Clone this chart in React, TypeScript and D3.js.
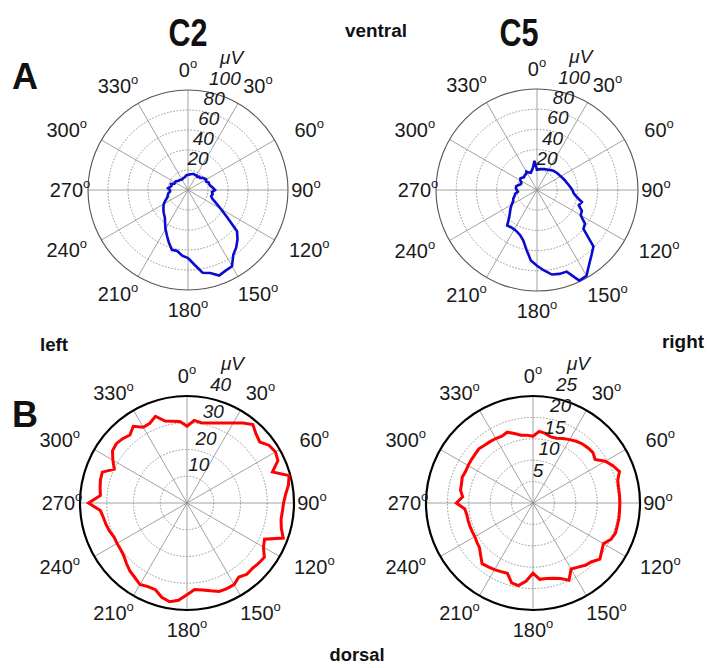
import React from "react";
import * as d3 from "d3";

const W = 707;
const H = 668;

// Angles (deg, clockwise from ventral / 0°) at which responses were sampled
const sampleAngles = d3.range(0, 360, 5);

// Panel A: C2 response amplitude (μV) per angle
const c2TopValues = [
  15, 15.5, 16, 16.5, 17, 16.5, 17, 16, 17.5, 17, 19, 20,
  21, 20, 22, 22, 23, 25, 27, 24, 25, 24, 26, 31,
  38, 48, 64, 70, 75, 79, 88, 89, 91, 86, 84, 75,
  68, 66, 62, 62, 56, 50, 45, 40, 36, 34, 32, 30,
  28, 25, 22, 21, 20, 18, 18, 20, 18, 17, 18, 15,
  15, 15, 14, 13, 13, 12.5, 12, 12.5, 13, 13, 14, 15,
];

// Panel A: C5 response amplitude (μV) per angle
const c5TopValues = [
  20, 20.5, 21, 21.5, 22, 22.5, 23, 24, 25, 25.5, 26, 26.5,
  27, 28, 29, 30, 31.5, 33, 35, 36.5, 40, 46, 44, 49,
  50, 58, 60, 79, 84, 90, 98, 99, 86, 86, 85, 80,
  75, 70, 60, 52, 48, 46, 45, 45, 46, 39, 35, 32,
  29, 26, 25, 23, 22, 19, 20, 21, 21, 19, 17, 17,
  19, 20, 19, 18, 19, 19, 21, 19, 18, 20, 22.7, 29,
];

// Panel B: C2 response amplitude (μV) per angle
const c2BottomValues = [
  28.7, 31, 30.5, 31, 31.8, 33, 34.5, 36.5, 38.3, 36.5, 35.5, 37.5,
  38.2, 37.5, 34, 39.5, 38.5, 37, 36.1, 35.8, 35.7, 36.5, 38.3, 32,
  33, 35.3, 35, 34.6, 34.8, 33.8, 35.2, 35.3, 35.2, 34, 33, 32.5,
  34.3, 36.5, 37.5, 36.5, 34.5, 34.5, 35.2, 34, 33.2, 32, 30.8, 30.3,
  30.2, 30.1, 30.8, 31.3, 31.7, 32.5, 36.8, 32.5, 33, 33.5, 33.7, 30,
  32, 34, 34.5, 34, 33.2, 35, 32.7, 32.9, 34.5, 31.7, 31, 30.6,
];

// Panel B: C5 response amplitude (μV) per angle
const c5BottomValues = [
  15.6, 16.8, 16.5, 16, 16.1, 16.6, 17.1, 17.6, 18, 18.2, 18.3, 17.7,
  19.5, 20.6, 21.5, 20.5, 20.3, 20.3, 20.3, 20.3, 20.4, 20.4, 20.5, 20.1,
  19, 19.6, 20.4, 19.4, 19, 18.3, 17.8, 19.9, 18.8, 18.2, 17.9, 17.9,
  16.4, 18.3, 19.6, 19.3, 17.5, 17.7, 18, 18.2, 18.5, 17.3, 16.3, 16,
  15.7, 15.7, 15.7, 15.7, 15.7, 16, 17.9, 16.5, 17.2, 17.3, 17.6, 17.4,
  17.5, 17.6, 17.7, 17.9, 17.6, 17.5, 17.4, 17.2, 17.6, 16.8, 16.1, 15.9,
];

// Axis ticks
const angleTicks = d3.range(0, 360, 30);
const topRadialTicks = [20, 40, 60, 80, 100];
const c2BottomRadialTicks = [10, 20, 30, 40];
const c5BottomRadialTicks = [5, 10, 15, 20, 25];

type PanelProps = {
  cx: number;
  cy: number;
  R: number;
  ticks: number[];
  values: number[];
  color: string;
  lineWidth: number;
  outerStroke: string;
  outerWidth: number;
};

const FONT = "'Liberation Sans', Arial, sans-serif";

function PolarPanel(p: PanelProps) {
  const rMax = p.ticks[p.ticks.length - 1];
  const r = d3.scaleLinear().domain([0, rMax]).range([0, p.R]);
  const toRad = (deg: number) => (deg * Math.PI) / 180;
  const data = sampleAngles.map((a, i) => ({ a, v: p.values[i] }));
  const line = d3
    .lineRadial<{ a: number; v: number }>()
    .angle((d) => toRad(d.a))
    .radius((d) => r(d.v))
    .curve(d3.curveLinearClosed);
  // Angle labels sit on a slightly wider-than-tall ring; the 90°/270° ones hug the circle
  const labelPos = (a: number) => {
    const s = Math.sin(toRad(a));
    const c = Math.cos(toRad(a));
    const lx = a % 180 === 90 ? p.R + 18 : p.R + 40;
    const ly = p.R + 20;
    return { x: lx * s, y: -ly * c };
  };
  const lastTick = p.ticks[p.ticks.length - 1];
  const tickX = (v: number) => -6 + r(v) * 0.27;
  const tickY = (v: number) => -r(v) - 5;
  return (
    <g transform={`translate(${p.cx},${p.cy})`}>
      {p.ticks.slice(0, -1).map((t) => (
        <circle
          key={`ring-${t}`}
          r={r(t)}
          fill="none"
          stroke="#8a8a8a"
          strokeWidth={0.9}
          strokeDasharray="1.6,1.6"
        />
      ))}
      {angleTicks.map((a) => (
        <line
          key={`spoke-${a}`}
          x1={0}
          y1={0}
          x2={p.R * Math.sin(toRad(a))}
          y2={-p.R * Math.cos(toRad(a))}
          stroke="#8a8a8a"
          strokeWidth={0.8}
        />
      ))}
      <circle r={p.R} fill="none" stroke={p.outerStroke} strokeWidth={p.outerWidth} />
      <path d={line(data) ?? ""} fill="none" stroke={p.color} strokeWidth={p.lineWidth} strokeLinejoin="miter" />
      {angleTicks.map((a) => {
        const pos = labelPos(a);
        return (
          <text
            key={`alab-${a}`}
            x={pos.x}
            y={pos.y}
            textAnchor="middle"
            dominantBaseline="central"
            fontFamily={FONT}
            fontSize={20}
            fill="#1a1a1a"
          >
            {a}
            <tspan fontSize={13} dy={-7}>o</tspan>
          </text>
        );
      })}
      {p.ticks.map((t) => (
        <text
          key={`rlab-${t}`}
          x={tickX(t)}
          y={tickY(t)}
          fontFamily={FONT}
          fontStyle="italic"
          fontSize={19}
          fill="#1a1a1a"
        >
          {t}
        </text>
      ))}
      <text
        x={tickX(lastTick) + 11}
        y={tickY(lastTick) - 21}
        fontFamily={FONT}
        fontStyle="italic"
        fontSize={19}
        fill="#1a1a1a"
      >
        μV
      </text>
    </g>
  );
}

export default function App() {
  const blue = "#0a0ad0";
  const red = "#ff0000";
  const bold = { fontFamily: FONT, fontWeight: 700, fill: "#111" } as const;
  return (
    <svg width={W} height={H} viewBox={`0 0 ${W} ${H}`} style={{ display: "block", background: "#fff", position: "absolute", left: 0, top: 0 }}>
      <rect width={W} height={H} fill="#fff" />
      <text x={188} y={46} textAnchor="middle" fontSize={38} textLength={39} lengthAdjust="spacingAndGlyphs" {...bold}>C2</text>
      <text x={519} y={46} textAnchor="middle" fontSize={38} textLength={39} lengthAdjust="spacingAndGlyphs" {...bold}>C5</text>
      <text x={376} y={37} textAnchor="middle" fontSize={18} textLength={62} lengthAdjust="spacingAndGlyphs" {...bold}>ventral</text>
      <text x={25} y={89} textAnchor="middle" fontSize={36} textLength={26} lengthAdjust="spacingAndGlyphs" {...bold}>A</text>
      <text x={25} y={427} textAnchor="middle" fontSize={36} textLength={26} lengthAdjust="spacingAndGlyphs" {...bold}>B</text>
      <text x={54} y={351} textAnchor="middle" fontSize={18} textLength={28} lengthAdjust="spacingAndGlyphs" {...bold}>left</text>
      <text x={683} y={348} textAnchor="middle" fontSize={18} textLength={42} lengthAdjust="spacingAndGlyphs" {...bold}>right</text>
      <text x={357} y={661} textAnchor="middle" fontSize={18} textLength={55} lengthAdjust="spacingAndGlyphs" {...bold}>dorsal</text>

      <PolarPanel cx={188} cy={190} R={100} ticks={topRadialTicks} values={c2TopValues} color={blue} lineWidth={2.6} outerStroke="#555" outerWidth={1.1} />
      <PolarPanel cx={537} cy={190} R={101} ticks={topRadialTicks} values={c5TopValues} color={blue} lineWidth={2.6} outerStroke="#555" outerWidth={1.1} />
      <PolarPanel cx={187} cy={503} R={107} ticks={c2BottomRadialTicks} values={c2BottomValues} color={red} lineWidth={3} outerStroke="#000" outerWidth={2.2} />
      <PolarPanel cx={533} cy={503} R={107} ticks={c5BottomRadialTicks} values={c5BottomValues} color={red} lineWidth={3} outerStroke="#000" outerWidth={2.2} />
    </svg>
  );
}
